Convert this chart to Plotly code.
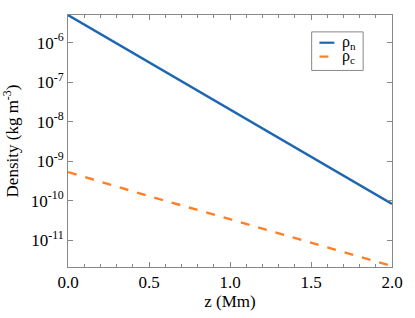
import plotly.graph_objects as go

z = [0.0, 0.5, 1.0, 1.5, 2.0]
rho_n = [5.0e-6, 3.2e-7, 2.0e-8, 1.3e-9, 8.3e-11]
rho_c = [5.3e-10, 1.3e-10, 3.4e-11, 8.6e-12, 2.2e-12]
names = ["ρ<sub>n</sub>", "ρ<sub>c</sub>"]
colors = ["#1f66b1", "#ff7f27"]
dashes = ["solid", "dash"]
y_tickvals = [1e-11, 1e-10, 1e-9, 1e-8, 1e-7, 1e-6]
y_ticktext = ["10<sup>-11</sup>", "10<sup>-10</sup>", "10<sup>-9</sup>",
              "10<sup>-8</sup>", "10<sup>-7</sup>", "10<sup>-6</sup>"]
x_tickvals = [0.0, 0.5, 1.0, 1.5, 2.0]
x_ticktext = ["0.0", "0.5", "1.0", "1.5", "2.0"]

font = "Times New Roman"
fig = go.Figure()
for y, nm, c, d in zip([rho_n, rho_c], names, colors, dashes):
    fig.add_trace(go.Scatter(x=z, y=y, mode="lines", name=nm, showlegend=False,
                             line=dict(color=c, width=2.4, dash=d)))

axis_common = dict(showgrid=False, zeroline=False, showline=True, linecolor="#888",
                   linewidth=1, mirror="ticks", ticks="inside", tickcolor="#888",
                   tickfont=dict(family=font, size=17, color="black"))
fig.update_xaxes(range=[0, 2], tickvals=x_tickvals, ticktext=x_ticktext, ticklen=5,
                 minor=dict(dtick=0.1, ticks="inside", ticklen=3, tickcolor="#888"),
                 title=dict(text="z (Mm)", font=dict(family=font, size=17, color="black"), standoff=2),
                 **axis_common)
fig.update_yaxes(type="log", range=[-11.68, -5.30], tickvals=y_tickvals, ticktext=y_ticktext,
                 ticklen=5,
                 title=dict(text="Density (kg m<sup>-3</sup>)", font=dict(family=font, size=17, color="black"), standoff=7),
                 **axis_common)

# custom legend box
fig.add_shape(type="rect", xref="paper", yref="paper", x0=0.752, x1=0.911, y0=0.780, y1=0.933,
              line=dict(color="#888", width=1), fillcolor="white", layer="above")
for i, (nm, c, d) in enumerate(zip(names, colors, dashes)):
    yl = 0.890 - i * 0.055
    fig.add_shape(type="line", xref="paper", yref="paper", x0=0.776, x1=0.822, y0=yl, y1=yl,
                  line=dict(color=c, width=2.2, dash=d), layer="above")
    fig.add_annotation(xref="paper", yref="paper", x=0.840, y=yl, text=nm, showarrow=False,
                       xanchor="left", yanchor="middle", font=dict(family=font, size=16, color="black"))

fig.update_layout(width=415, height=318, margin=dict(l=68, r=21, t=15, b=49),
                  plot_bgcolor="white", paper_bgcolor="white",
                  font=dict(family=font, color="black"))
fig.write_html("out.html", config={"displayModeBar": False},
               post_script="document.body.style.margin='0';")
